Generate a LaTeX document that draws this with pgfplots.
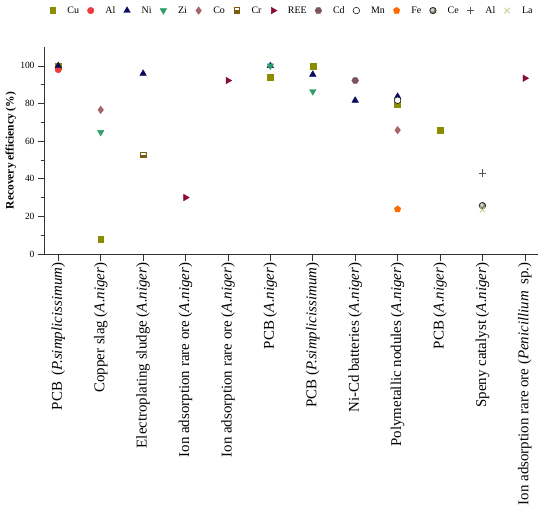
\documentclass[border=0pt]{standalone}
\usepackage{fontspec}
\setmainfont{Liberation Serif}
\usepackage{pgfplots}
\pgfplotsset{compat=1.18}
\usetikzlibrary{plotmarks}
\definecolor{cCu}{HTML}{8C8C00}
\definecolor{cAl}{HTML}{EE3B3B}
\definecolor{cNi}{HTML}{0B0B5E}
\definecolor{cZi}{HTML}{2E9D6A}
\definecolor{cCo}{HTML}{A3646A}
\definecolor{cCr}{HTML}{7A5C12}
\definecolor{cREE}{HTML}{8B0A3C}
\definecolor{cCd}{HTML}{7D555B}
\definecolor{cFe}{HTML}{FF6A00}
\definecolor{cCe}{HTML}{B0B09A}
\definecolor{cAlp}{HTML}{555555}
\definecolor{cLa}{HTML}{C8C890}
\pgfdeclareplotmark{hexagon*}{%
  \pgfpathmoveto{\pgfpointpolar{0}{\pgfplotmarksize}}%
  \pgfpathlineto{\pgfpointpolar{60}{\pgfplotmarksize}}%
  \pgfpathlineto{\pgfpointpolar{120}{\pgfplotmarksize}}%
  \pgfpathlineto{\pgfpointpolar{180}{\pgfplotmarksize}}%
  \pgfpathlineto{\pgfpointpolar{240}{\pgfplotmarksize}}%
  \pgfpathlineto{\pgfpointpolar{300}{\pgfplotmarksize}}%
  \pgfpathclose\pgfusepathqfillstroke}
\pgfdeclareplotmark{halfsq}{%
  \pgfpathrectanglecorners{\pgfpoint{-\pgfplotmarksize}{-\pgfplotmarksize}}{\pgfpoint{\pgfplotmarksize}{0.1\pgfplotmarksize}}%
  \pgfusepathqfill
  \pgfpathrectanglecorners{\pgfpoint{-\pgfplotmarksize}{-\pgfplotmarksize}}{\pgfpoint{\pgfplotmarksize}{\pgfplotmarksize}}%
  \pgfusepathqstroke}
\begin{document}
\begin{tikzpicture}
\begin{axis}[
  name=ax,
  scale only axis,
  width=493.5bp, height=207bp,
  xmin=0.675, xmax=12.31,
  ymin=0, ymax=110,
  axis lines=left,
  axis line style={-, line width=0.6pt, black!80},
  xtick={1,...,12},
  xticklabels={
    {PCB\ \,(\textit{P.simplicissimum})},
    {Copper slag (\textit{A.niger})},
    {Electroplating sludge (\textit{A.niger})},
    {Ion adsorption rare ore (\textit{A.niger})},
    {Ion adsorption rare ore (\textit{A.niger})},
    {PCB (\textit{A.niger})},
    {PCB (\textit{P.simplicissimum})},
    {Ni-Cd batteries (\textit{A.niger})},
    {Polymetallic nodules (\textit{A.niger})},
    {PCB (\textit{A.niger})},
    {Speny catalyst (\textit{A.niger})},
    {Ion adsorption rare ore (\textit{Penicillium}\ \,sp.)}},
  xticklabel style={rotate=90, anchor=east, font=\fontsize{15}{17}\selectfont, inner sep=2pt},
  ytick={0,20,...,100},
  minor ytick={10,30,...,90},
  tick align=outside,
  major tick length=6.5bp,
  minor tick length=4bp,
  tick style={line width=0.6pt, black!80},
  yticklabel style={font=\fontsize{9.5}{11}\selectfont},
  /pgf/number format/assume math mode=true,
  ylabel={\textbf{Recovery efficiency (\%)}},
  ylabel style={at={(axis description cs:-0.068,0.5)}, anchor=center, font=\fontsize{11.5}{13}\selectfont},
  mark size=3pt,
  every axis plot/.append style={only marks},
  legend image code/.code={\path (-9.5bp,0) (12.5bp,0); \draw[#1] plot coordinates {(0,0)};},
  legend columns=-1,
  legend style={draw=none, fill=none, at={(0.495,1.176)}, anchor=center,
    font=\fontsize{10}{12}\selectfont},
  clip=false,
]
\addplot[mark=square*, color=cCu] coordinates {(1,100) (2,8) (6,93.8) (7,100) (9,79.6) (10,65.8)};
\addlegendentry{Cu}
\addplot[mark=*, color=cAl, mark size=3.3pt] coordinates {(1,98)};
\addlegendentry{Al}
\addplot[mark=triangle*, color=cNi, mark size=3.8pt] coordinates {(1,100) (3,95.9) (6,100) (7,95.4) (8,81.6) (9,83.7)};
\addlegendentry{Ni}
\addplot[mark=triangle*, color=cZi, mark size=3.8pt, mark options={rotate=180}] coordinates {(2,64.7) (6,100) (7,86.4)};
\addlegendentry{Zi}
\addplot[mark=diamond*, color=cCo, mark size=3.8pt] coordinates {(2,76.6) (9,65.8)};
\addlegendentry{Co}
\addplot[mark=halfsq, color=cCr, mark size=2.8pt, line width=0.6pt] coordinates {(3,52.7)};
\addlegendentry{Cr}
\addplot[mark=triangle*, color=cREE, mark size=3.8pt, mark options={rotate=-90}] coordinates {(4,30) (5,92.2) (12,93.4)};
\addlegendentry{REE}
\addplot[mark=hexagon*, color=cCd, mark size=3.4pt] coordinates {(8,92.2)};
\addlegendentry{Cd}
\addplot[mark=*, mark size=3.3pt, mark options={draw=black, fill=white, line width=0.5pt}] coordinates {(9,81.7)};
\addlegendentry{Mn}
\addplot[mark=pentagon*, color=cFe, mark size=3.4pt] coordinates {(9,23.8)};
\addlegendentry{Fe}
\addplot[mark=ball, ball color=cCe, mark size=3.3pt] coordinates {(11,25.7)};
\addlegendentry{Ce}
\addplot[mark=+, color=cAlp, mark size=3.8pt, line width=0.6pt] coordinates {(11,42.9)};
\addlegendentry{Al}
\addplot[mark=x, color=cLa, mark size=3.8pt, line width=0.8pt] coordinates {(11,23.5)};
\addlegendentry{La}
\end{axis}
\pgfresetboundingbox
\path[use as bounding box] (ax.south west) ++(-44.5bp,-261bp) rectangle ++(550bp,515bp);
\end{tikzpicture}
\end{document}
